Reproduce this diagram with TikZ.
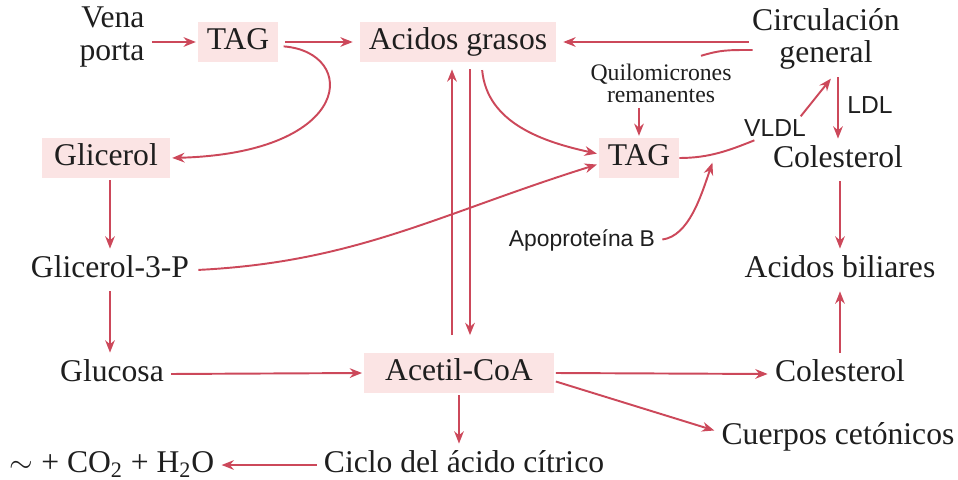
\documentclass[tikz,border=0pt]{standalone}
\usepackage{fontspec}
\setmainfont{Liberation Serif}
\newfontfamily\lblsans{Liberation Sans}
\usetikzlibrary{arrows.meta,calc}
\definecolor{arrc}{RGB}{204,72,90}
\definecolor{hlpink}{RGB}{251,228,228}
\definecolor{txt}{RGB}{30,30,30}
\tikzset{
  main/.style={font=\fontsize{18}{20}\selectfont, text=txt, text height=12.5pt, text depth=3.5pt, inner sep=3pt},
  mainml/.style={font=\fontsize{18}{18.5}\selectfont, text=txt, inner sep=3pt},
  hl/.style={fill=hlpink, minimum height=0.8cm, inner xsep=5pt},
  smallserif/.style={font=\fontsize{13.5}{12.5}\selectfont, text=txt, align=center, inner sep=2pt},
  sanslbl/.style={font=\lblsans\fontsize{14}{16}\selectfont, text=txt, inner sep=2pt},
  arr/.style={draw=arrc, line width=1.1pt, -{Stealth[length=7pt,width=5.5pt]}, shorten >=1pt, shorten <=1pt},
  ln/.style={draw=arrc, line width=1.1pt}
}
\begin{document}
\begin{tikzpicture}[x={(0.02cm,0)}, y={(0,-0.02cm)}]
\useasboundingbox (0,0) rectangle (958,480);
% nodes
\node[mainml, align=right] (vena) at (112,37) {Vena\\porta};
\node[main, hl] (tag1) at (238,42) {TAG};
\node[main, hl] (ag) at (458,42) {Acidos grasos};
\node[mainml, align=center] (circ) at (826,39) {Circulación\\general};
\node[smallserif] (quilo) at (661,83) {Quilomicrones\\remanentes};
\node[main, hl, inner xsep=7pt] (glic) at (106,158) {Glicerol};
\node[main, hl] (tag2) at (639,158) {TAG};
\node[sanslbl] (vldl) at (775,128) {VLDL};
\node[sanslbl] (ldl) at (870,105) {LDL};
\node[main] (col1) at (838,160) {Colesterol};
\node[sanslbl, font=\lblsans\fontsize{13}{15}\selectfont] (apo) at (582,240) {Apoproteína B};
\node[main] (g3p) at (110,270) {Glicerol-3-P};
\node[main] (ab) at (840,270) {Acidos biliares};
\node[main] (gluc) at (112,374) {Glucosa};
\node[main, hl, inner xsep=12pt] (acoa) at (459,373) {Acetil-CoA};
\node[main] (col2) at (840,374) {Colesterol};
\node[main] (cc) at (838,437) {Cuerpos cetónicos};
\node[main] (ciclo) at (464,465) {Ciclo del ácido cítrico};
\node[main] (co2) at (112,465) {$\sim$ + CO\textsubscript{2} + H\textsubscript{2}O};
\coordinate (join) at (713,161);
% connectors
\draw[arr] (vena.east |- tag1.west) -- (tag1.west);
\draw[arr, shorten <=4pt, shorten >=4pt] (tag1.east) -- (ag.west);
\draw[arr, shorten <=3pt] ($(tag1.east)+(0,4)$) .. controls +(80,6) and +(185,-5) .. (glic.east);
\draw[arr] (g3p.north |- glic.south) -- (g3p.north);
\draw[arr] (g3p.south) -- (g3p.south |- gluc.north);
\draw[arr] (gluc.east) -- (acoa.west);
\draw[arr] (acoa.south) -- (acoa.south |- ciclo.north);
\draw[arr] (ciclo.west) -- (co2.east);
\draw[arr, shorten >=4pt, shorten <=10pt] ($(acoa.north)+(-7,0)$) -- ($(acoa.north |- ag.south)+(-7,0)$);
\draw[arr, shorten >=10pt, shorten <=4pt] ($(acoa.north |- ag.south)+(11,0)$) -- ($(acoa.north)+(11,0)$);
\draw[arr] ($(ag.south)+(24,6)$) .. controls +(5,55) and +(-55,-12) .. ($(tag2.west)+(0,-4)$);
\draw[arr] ($(g3p.east)+(2,0)$) .. controls +(160,-8) and +(-160,50) .. ($(tag2.west)+(0,6)$);
\draw[arr, shorten >=4pt] ($(circ.west)+(4,3)$) -- (ag.east);
\draw[ln] ($(circ.west)+(6,11)$) .. controls +(-25,0) and +(20,-6) .. ($(quilo.north)+(40,-4)$);
\draw[arr] (quilo.south -| tag2.north) -- (tag2.north);
\draw[ln] (tag2.east) .. controls +(30,0) and +(-25,10) .. ($(vldl.south west)+(14,0)$);
\draw[arr] ($(vldl.north east)+(-10,2)$) -- ($(circ.south)+(6,2)$);
\draw[arr, shorten <=2pt] (apo.east) .. controls +(30,-4) and +(-12,35) .. (join);
\draw[arr] (col1.north |- circ.south) -- (col1.north);
\draw[arr] (col1.south -| ab.north) -- (ab.north);
\draw[arr] (col2.north) -- (ab.south);
\draw[arr] (acoa.east) -- (col2.west);
\draw[arr] ($(acoa.east)+(0,8)$) -- ($(cc.west)+(0,-6)$);
\end{tikzpicture}
\end{document}
